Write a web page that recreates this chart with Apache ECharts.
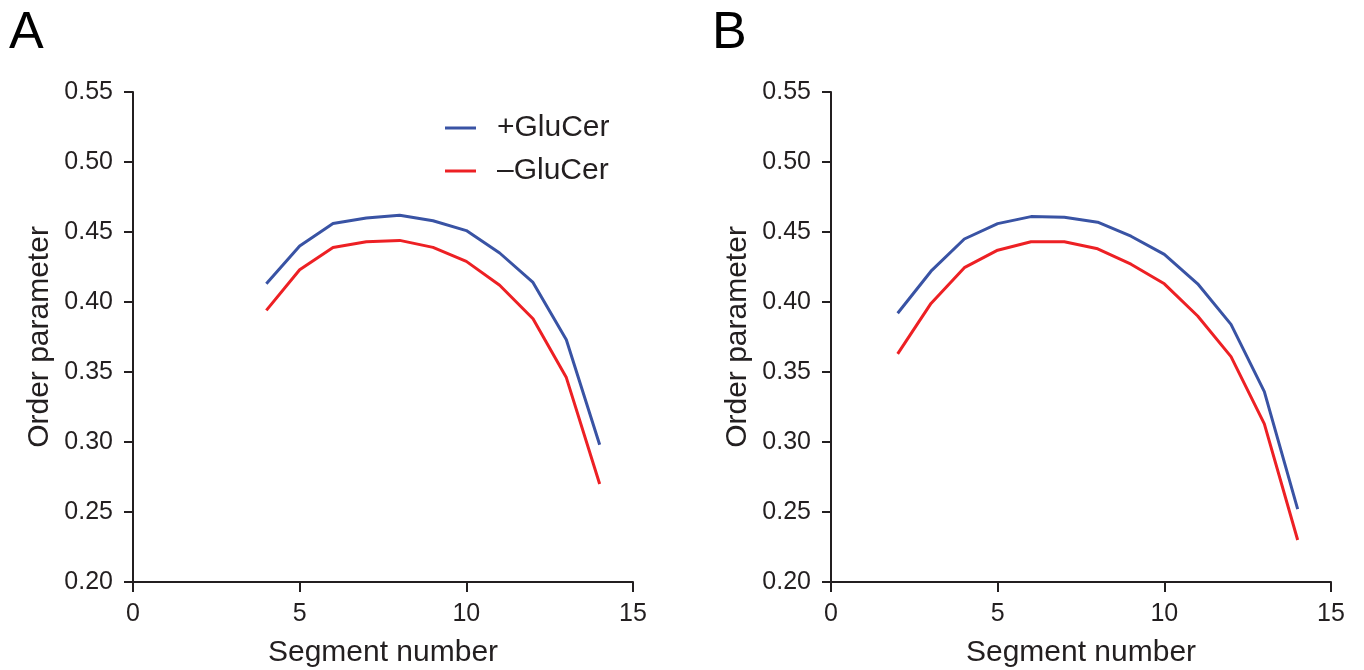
<!DOCTYPE html>
<html>
<head>
<meta charset="utf-8">
<script src="https://cdn.jsdelivr.net/npm/echarts@6/dist/echarts.min.js"></script>
<style>
  html, body {margin: 0; padding: 0; background: #fff;}
  #chart {width: 1364px; height: 670px;}
</style>
</head>
<body>
<div id="chart"></div>
<script>
// segment numbers for each panel
const segmentsA = [4, 5, 6, 7, 8, 9, 10, 11, 12, 13, 14];
const segmentsB = [2, 3, 4, 5, 6, 7, 8, 9, 10, 11, 12, 13, 14];

// panel A order parameters
const plusA = [0.413, 0.440, 0.456, 0.460, 0.462, 0.458, 0.451, 0.435, 0.414, 0.373, 0.298];
const minusA = [0.394, 0.423, 0.439, 0.443, 0.444, 0.439, 0.429, 0.412, 0.388, 0.346, 0.270];

// panel B order parameters
const plusB = [0.392, 0.422, 0.445, 0.456, 0.461, 0.4605, 0.457, 0.447, 0.434, 0.413, 0.384, 0.336, 0.252];
const minusB = [0.363, 0.399, 0.4245, 0.437, 0.443, 0.443, 0.438, 0.427, 0.413, 0.390, 0.361, 0.313, 0.230];

const seriesNames = ["+GluCer", "\u2013GluCer"];
const panelLetters = ["A", "B"];

const ink = "#231f20";
const blue = "#3953a4";
const red = "#ed2024";
const font = "Liberation Sans";

const pairs = (xs, ys) => xs.map((x, i) => [x, ys[i]]);

const chart = echarts.init(document.getElementById("chart"));

const makeXAxis = (gridIndex) => ({
  type: "value",
  gridIndex: gridIndex,
  min: 0,
  max: 15,
  interval: 5,
  name: "Segment number",
  nameLocation: "middle",
  nameGap: 56,
  nameTextStyle: {fontFamily: font, fontSize: 30, color: ink},
  axisLine: {show: true, onZero: false, lineStyle: {color: ink, width: 2}},
  axisTick: {show: true, length: 10, lineStyle: {color: ink, width: 2}},
  axisLabel: {fontFamily: font, fontSize: 25, color: ink, margin: 20},
  splitLine: {show: false},
});

const makeYAxis = (gridIndex) => ({
  type: "value",
  gridIndex: gridIndex,
  min: 0.2,
  max: 0.55,
  interval: 0.05,
  name: "Order parameter",
  nameLocation: "middle",
  nameGap: 78,
  nameTextStyle: {fontFamily: font, fontSize: 30, color: ink},
  axisLine: {show: true, onZero: false, lineStyle: {color: ink, width: 2}},
  axisTick: {show: true, length: 9, lineStyle: {color: ink, width: 2}},
  axisLabel: {
    fontFamily: font, fontSize: 25, color: ink, margin: 20,
    formatter: (v) => v.toFixed(2),
  },
  splitLine: {show: false},
});

const makeLine = (name, xs, ys, color, idx) => ({
  name: name,
  type: "line",
  xAxisIndex: idx,
  yAxisIndex: idx,
  data: pairs(xs, ys),
  showSymbol: false,
  symbol: "none",
  lineStyle: {color: color, width: 3},
  itemStyle: {color: color},
  animation: false,
});

const option = {
  backgroundColor: "#fff",
  animation: false,
  grid: [
    {left: 133, right: 731, top: 92, bottom: 88, outerBoundsMode: "none", containLabel: false},
    {left: 831, right: 33, top: 92, bottom: 88, outerBoundsMode: "none", containLabel: false},
  ],
  xAxis: [makeXAxis(0), makeXAxis(1)],
  yAxis: [makeYAxis(0), makeYAxis(1)],
  legend: {
    data: seriesNames,
    orient: "vertical",
    left: 440,
    top: 108,
    itemGap: 13,
    itemWidth: 31,
    itemHeight: 3,
    icon: "rect",
    textStyle: {fontFamily: font, fontSize: 30, color: ink, padding: [0, 0, 0, 16]},
  },
  graphic: panelLetters.map((letter, i) => ({
    type: "text",
    left: i === 0 ? 9 : 712,
    top: 8,
    style: {text: letter, fontFamily: font, fontSize: 52, fill: "#000"},
  })),
  series: [
    makeLine(seriesNames[0], segmentsA, plusA, blue, 0),
    makeLine(seriesNames[1], segmentsA, minusA, red, 0),
    makeLine(seriesNames[0], segmentsB, plusB, blue, 1),
    makeLine(seriesNames[1], segmentsB, minusB, red, 1),
  ],
};

chart.setOption(option);
</script>
</body>
</html>
